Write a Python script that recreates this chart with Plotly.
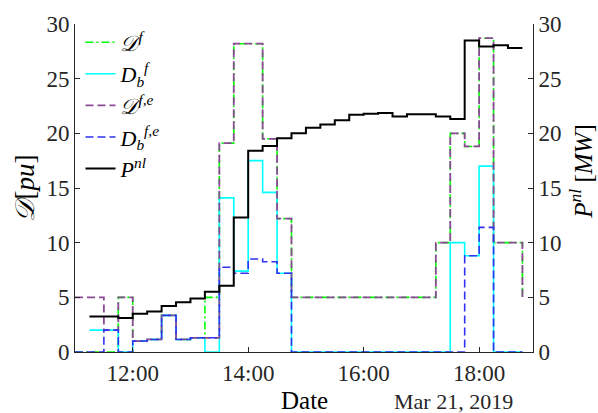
import plotly.graph_objects as go

# 15-minute time grid (Mar 21, 2019)
times = ["2019-03-21 11:00", "2019-03-21 11:15", "2019-03-21 11:30", "2019-03-21 11:45",
         "2019-03-21 12:00", "2019-03-21 12:15", "2019-03-21 12:30", "2019-03-21 12:45",
         "2019-03-21 13:00", "2019-03-21 13:15", "2019-03-21 13:30", "2019-03-21 13:45",
         "2019-03-21 14:00", "2019-03-21 14:15", "2019-03-21 14:30", "2019-03-21 14:45",
         "2019-03-21 15:00", "2019-03-21 15:15", "2019-03-21 15:30", "2019-03-21 15:45",
         "2019-03-21 16:00", "2019-03-21 16:15", "2019-03-21 16:30", "2019-03-21 16:45",
         "2019-03-21 17:00", "2019-03-21 17:15", "2019-03-21 17:30", "2019-03-21 17:45",
         "2019-03-21 18:00", "2019-03-21 18:15", "2019-03-21 18:30", "2019-03-21 18:45"]

D_f = [0, 0, 0, 5,
       1.0, 1.15, 3.35, 1.15,
       1.3, 5, 19.1, 28.2,
       28.2, 19.5, 12.2, 5,
       5, 5, 5, 5,
       5, 5, 5, 5,
       5, 10, 20, 18.8,
       28.7, 10, 10, 5]

Db_f = [None, 2, 2, 0,
        1.0, 1.15, 3.35, 1.15,
        1.3, 0, 14.1, 7.4,
        17.5, 14.6, 7.2, 0,
        0, 0, 0, 0,
        0, 0, 0, 0,
        0, 0, 10, 8.8,
        17.0, 0, 0, 0]

D_fe = [5, 5, 2, 5,
        1.0, 1.15, 3.35, 1.15,
        1.3, 1.3, 19.1, 28.2,
        28.2, 19.5, 12.2, 5,
        5, 5, 5, 5,
        5, 5, 5, 5,
        5, 10, 20, 18.8,
        28.7, 10, 10, 5]

Db_fe = [0, 0, 2, 0,
         1.0, 1.15, 3.35, 1.15,
         1.3, 1.3, 7.75, 7.2,
         8.5, 8.25, 7.2, 0,
         0, 0, 0, 0,
         0, 0, 0, 0,
         0, 0, 0, 8.8,
         11.4, 0, 0, 0]

P_nl = [None, 3.25, 3.25, 3.1,
        3.5, 3.7, 4.2, 4.55,
        4.9, 5.5, 6.05, 12.3,
        18.4, 18.85, 19.55, 20.0,
        20.5, 20.8, 21.2, 21.7,
        21.8, 21.85, 21.55, 21.75,
        21.75, 21.55, 21.3, 28.5,
        27.95, 28.05, 27.8, 27.8]

y_ticks = [0, 5, 10, 15, 20, 25, 30]
x_ticks = ["2019-03-21 12:00", "2019-03-21 14:00", "2019-03-21 16:00", "2019-03-21 18:00"]
x_ticklabels = ["12:00", "14:00", "16:00", "18:00"]

FONT = 'Liberation Serif, "Times New Roman", Times, serif'
AX = "#262626"

fig = go.Figure()
fig.add_trace(go.Scatter(x=times, y=D_f, mode="lines", line_shape="hv",
                         name="<i>𝒟</i><sup><i>f</i></sup>",
                         line=dict(color="#00FF00", width=1.6, dash="8px,3px,2px,3px")))
fig.add_trace(go.Scatter(x=times, y=Db_f, mode="lines", line_shape="hv",
                         name="<i>D</i><sub><i>b</i></sub><sup><i>f</i></sup>",
                         line=dict(color="#00FFFF", width=1.6)))
fig.add_trace(go.Scatter(x=times, y=D_fe, mode="lines", line_shape="hv",
                         name="<i>𝒟</i><sup><i>f,e</i></sup>",
                         line=dict(color="#8B4A94", width=1.8, dash="8px,4px")))
fig.add_trace(go.Scatter(x=times, y=Db_fe, mode="lines", line_shape="hv",
                         name="<i>D</i><sub><i>b</i></sub><sup><i>f,e</i></sup>",
                         line=dict(color="#3030F0", width=1.6, dash="8px,4px")))
fig.add_trace(go.Scatter(x=times, y=P_nl, mode="lines", line_shape="hv", yaxis="y2",
                         name="<i>P</i><sup><i>nl</i></sup>",
                         line=dict(color="#000000", width=2)))

axis_common = dict(showgrid=False, zeroline=False, showline=True, linecolor=AX,
                   linewidth=1, ticks="inside", ticklen=5, tickcolor=AX,
                   tickfont=dict(family=FONT, size=23, color=AX))

fig.update_layout(
    width=598, height=413,
    margin=dict(l=75, r=65, t=20, b=61),
    paper_bgcolor="white", plot_bgcolor="white",
    font=dict(family=FONT, size=23, color="#000000"),
    xaxis=dict(type="date", range=["2019-03-21 11:00", "2019-03-21 18:56"],
               tickvals=x_ticks, ticktext=x_ticklabels, **axis_common),
    yaxis=dict(range=[0, 30], tickvals=y_ticks, **axis_common),
    yaxis2=dict(range=[0, 30], tickvals=y_ticks, overlaying="y", side="right",
                **axis_common),
    legend=dict(x=0.012, y=1.008, xanchor="left", yanchor="top",
                bgcolor="rgba(255,255,255,0)", borderwidth=0,
                font=dict(family=FONT, size=22, color="#000000"),
                tracegroupgap=0),
    showlegend=True,
    annotations=[
        dict(text="<i>𝒟</i>[<i>pu</i>]", xref="paper", yref="paper",
             x=-0.11, y=0.5, textangle=-90, showarrow=False,
             font=dict(family=FONT, size=27, color="#000000"),
             xanchor="center", yanchor="middle"),
        dict(text="<i>P</i><sup><i>nl</i></sup> [<i>MW</i>]", xref="paper", yref="paper",
             x=1.105, y=0.55, textangle=-90, showarrow=False,
             font=dict(family=FONT, size=25, color="#000000"),
             xanchor="center", yanchor="middle"),
        dict(text="Date", xref="paper", yref="paper", x=0.5, y=-0.1,
             showarrow=False, font=dict(family=FONT, size=25, color="#000000"),
             xanchor="center", yanchor="top"),
        dict(text="Mar 21, 2019", xref="paper", yref="paper", x=0.961, y=-0.108,
             showarrow=False, font=dict(family=FONT, size=22, color=AX),
             xanchor="right", yanchor="top"),
    ],
)

fig.write_html("out.html",
               config={"displayModeBar": False},
               post_script="document.body.style.margin='0px';"
                           "document.body.style.padding='0px';"
                           "document.body.style.overflow='hidden';")
